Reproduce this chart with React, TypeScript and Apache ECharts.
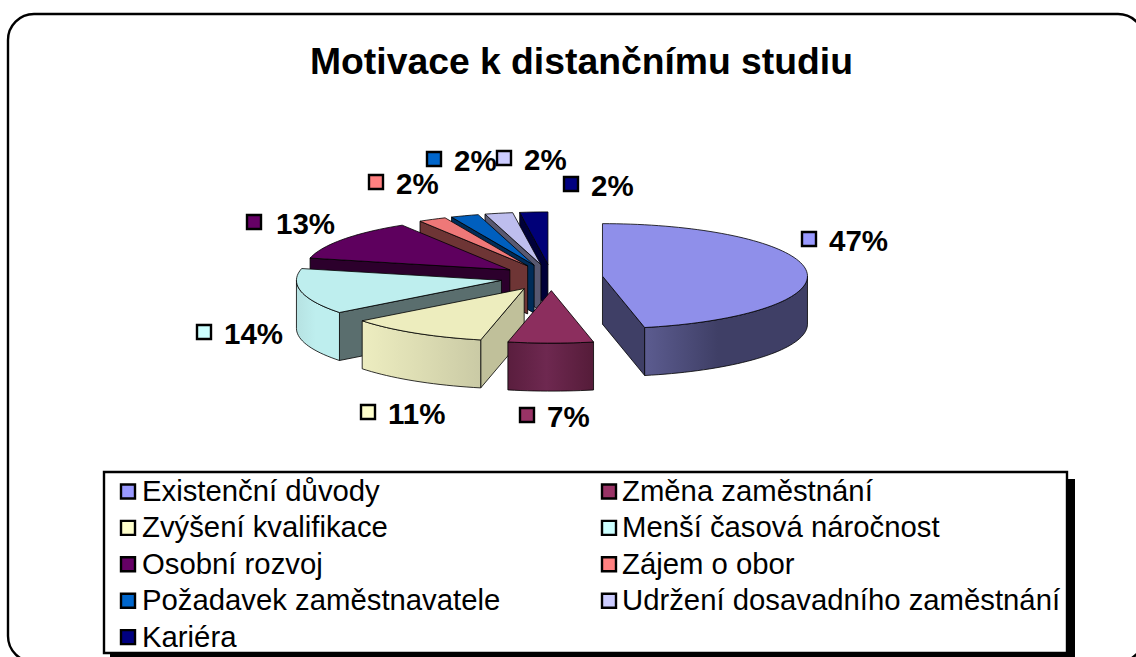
import React, { useEffect, useRef } from "react";
import * as echarts from "echarts";

const categories = [
  "Existenční důvody",
  "Změna zaměstnání",
  "Zvýšení kvalifikace",
  "Menší časová náročnost",
  "Osobní rozvoj",
  "Zájem o obor",
  "Požadavek zaměstnavatele",
  "Udržení dosavadního zaměstnání",
  "Kariéra",
];
const shares = [46.7, 6.7, 11.1, 14.1, 12.6, 2.2, 2.2, 2.2, 2.2];
const keyColors = ["#9999FF", "#993366", "#FFFFCC", "#CCFFFF", "#660066", "#FF8080", "#0066CC", "#CCCCFF", "#000080"];
const topColors = ["#8F8FEA", "#8C2E5E", "#EDEDBE", "#BEEEEE", "#5E005E", "#EE7878", "#005FBE", "#BEBEEE", "#000078"];
const radialWallColors = ["#3F3F66", "#3D1528", "#C0C09A", "#5A6E6E", "#2C002C", "#6E3535", "#002C58", "#585870", "#000038"];
const outerWallStops: string[][] = [
  ["#5C5C90", "#3F3F66", "#3F3F66"],
  ["#5A1E3E", "#6E2850", "#551C39"],
  ["#EDEDC0", "#DEDEB4", "#CACAA5"],
  ["#B6E2E2", "#BEEEEE", "#BEEEEE"],
  ["#2C002C", "#2C002C", "#2C002C"],
  ["#6E3535", "#6E3535", "#6E3535"],
  ["#002C58", "#002C58", "#002C58"],
  ["#585870", "#585870", "#585870"],
  ["#000038", "#000038", "#000038"],
];
// label anchors: key-square centre x, text left x, line centre y
const labelAnchors = [
  [809, 829, 240],
  [527, 547, 416],
  [368, 388, 413],
  [204, 224, 333],
  [254, 276, 223],
  [376, 396, 183],
  [434, 454, 160],
  [504, 524, 159],
  [571, 591, 185],
];

const PIE = { cx: 551.5, cy: 277.5, rx: 205, ry: 52.5, depth: 48, explode: 0.25 };
const FONT = '"Liberation Sans", Arial, sans-serif';
const rad = (d: number) => (d * Math.PI) / 180;

const cumulative: number[] = [];
shares.reduce((acc, v, i) => {
  cumulative[i] = acc;
  return acc + v;
}, 0);

function sliceGeometry(index: number) {
  const a = (cumulative[index] / 100) * 360;
  const b = a + (shares[index] / 100) * 360;
  const mid = rad((a + b) / 2);
  const cx = PIE.cx + PIE.explode * PIE.rx * Math.sin(mid);
  const cy = PIE.cy - PIE.explode * PIE.ry * Math.cos(mid);
  const pt = (deg: number, drop = 0): number[] => [
    cx + PIE.rx * Math.sin(rad(deg)),
    cy - PIE.ry * Math.cos(rad(deg)) + drop,
  ];
  const arc = (from: number, to: number, drop = 0) => {
    const n = Math.max(2, Math.ceil((to - from) / 2));
    const out: number[][] = [];
    for (let i = 0; i <= n; i++) out.push(pt(from + ((to - from) * i) / n, drop));
    return out;
  };
  return { a, b, cx, cy, pt, arc };
}

const edgeStyle = { stroke: "#000", lineWidth: 0.8 };

function renderSlice(_params: any, api: any) {
  const index = api.value(0);
  const { a, b, cx, cy, pt, arc } = sliceGeometry(index);
  const d = PIE.depth;
  const children: any[] = [];
  const wall = (deg: number) =>
    children.push({
      type: "polygon",
      shape: { points: [[cx, cy], pt(deg), pt(deg, d), [cx, cy + d]] },
      style: { fill: radialWallColors[index], ...edgeStyle },
    });
  if (Math.sin(rad(a)) < -1e-6) wall(a);
  if (Math.sin(rad(b)) > 1e-6) wall(b);
  const from = Math.max(a, 90);
  const to = Math.min(b, 270);
  if (to > from) {
    const [s0, s1, s2] = outerWallStops[index];
    children.push({
      type: "polygon",
      shape: { points: [...arc(from, to), ...arc(from, to, d).reverse()] },
      style: {
        fill: new echarts.graphic.LinearGradient(0, 0, 1, 0, [
          { offset: 0, color: s0 },
          { offset: 0.45, color: s1 },
          { offset: 1, color: s2 },
        ]),
        ...edgeStyle,
      },
    });
  }
  children.push({
    type: "polygon",
    shape: { points: [[cx, cy], ...arc(a, b)] },
    style: { fill: topColors[index], ...edgeStyle },
  });
  return { type: "group", children };
}

function renderLabel(_params: any, api: any) {
  const index = api.value(0);
  const [kx, tx, y] = labelAnchors[index];
  return {
    type: "group",
    children: [
      {
        type: "rect",
        shape: { x: kx - 7, y: y - 8, width: 14, height: 14 },
        style: { fill: keyColors[index], stroke: "#000", lineWidth: 2.4 },
      },
      {
        type: "text",
        x: tx,
        y,
        style: {
          text: `${Math.round(shares[index])}%`,
          font: `bold 29.5px ${FONT}`,
          fill: "#000",
          verticalAlign: "middle",
        },
      },
    ],
  };
}

const drawOrder = categories.map((_, i) => [categories.length - 1 - i]);
const labelOrder = categories.map((_, i) => [i]);

function legendEntries() {
  const out: any[] = [];
  categories.forEach((name, i) => {
    const col = i % 2;
    const row = Math.floor(i / 2);
    const y = 491.5 + row * 36.4;
    const keyX = col === 0 ? 121 : 602;
    out.push({
      type: "rect",
      z: 3,
      shape: { x: keyX, y: y - 7, width: 14, height: 14 },
      style: { fill: keyColors[i], stroke: "#000", lineWidth: 2.4 },
    });
    out.push({
      type: "text",
      z: 3,
      x: col === 0 ? 142 : 622,
      y: y - 1,
      style: { text: name, font: `29.3px ${FONT}`, fill: "#000", verticalAlign: "middle" },
    });
  });
  return out;
}

export default function App() {
  const ref = useRef<HTMLDivElement>(null);
  useEffect(() => {
    const chart = echarts.init(ref.current!, undefined, { renderer: "svg" });
    chart.setOption({
      animation: false,
      backgroundColor: "#fff",
      title: {
        text: "Motivace k distančnímu studiu",
        left: 576.5,
        top: 37,
        textAlign: "center",
        textStyle: { fontFamily: FONT, fontWeight: "bold", fontSize: 37.3, color: "#000" },
      },
      series: [
        { type: "custom", coordinateSystem: "none", renderItem: renderSlice, data: drawOrder, z: 2, silent: true },
        { type: "custom", coordinateSystem: "none", renderItem: renderLabel, data: labelOrder, z: 3, silent: true },
      ],
      graphic: [
        {
          type: "rect",
          z: 0,
          shape: { x: 8, y: 14, width: 1136, height: 648, r: 26 },
          style: { fill: "#fff", stroke: "#000", lineWidth: 2.4 },
        },
        { type: "rect", z: 1, shape: { x: 110, y: 479, width: 965, height: 190 }, style: { fill: "#000" } },
        {
          type: "rect",
          z: 2,
          shape: { x: 104, y: 472, width: 963, height: 181 },
          style: { fill: "#fff", stroke: "#000", lineWidth: 2.4 },
        },
        ...legendEntries(),
      ],
    });
    return () => chart.dispose();
  }, []);
  return <div ref={ref} style={{ position: "fixed", left: 0, top: 0, width: 1136, height: 657 }} />;
}
